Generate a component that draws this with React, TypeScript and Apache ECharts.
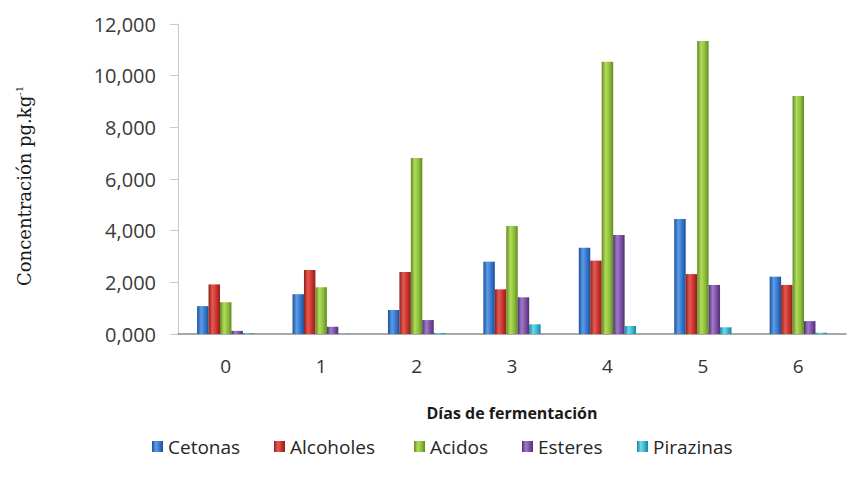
import React, { useEffect, useRef } from "react";
import * as echarts from "echarts";

const categories = ["0", "1", "2", "3", "4", "5", "6"];
const seriesNames = ["Cetonas", "Alcoholes", "Acidos", "Esteres", "Pirazinas"];
const cetonas = [1080, 1540, 930, 2800, 3340, 4450, 2220];
const alcoholes = [1920, 2480, 2400, 1730, 2840, 2320, 1900];
const acidos = [1230, 1810, 6810, 4180, 10540, 11340, 9210];
const esteres = [120, 280, 540, 1420, 3830, 1900, 500];
const pirazinas = [30, 10, 40, 375, 310, 260, 50];
const yTicks = [0, 2000, 4000, 6000, 8000, 10000, 12000];

const legendLefts = [152, 274, 414, 522, 637];

const palette = [
  { dark: "#1d4f96", mid: "#3476cc", light: "#5c9de6" },
  { dark: "#8f1f1b", mid: "#c7322c", light: "#e65a50" },
  { dark: "#5f8a22", mid: "#8cbc39", light: "#b2dc5a" },
  { dark: "#4f2f73", mid: "#7b4ea3", light: "#a07cc6" },
  { dark: "#17849b", mid: "#31b5cf", light: "#74d8ea" },
];

function grad(c: { dark: string; mid: string; light: string }) {
  return new echarts.graphic.LinearGradient(0, 0, 1, 0, [
    { offset: 0, color: c.dark },
    { offset: 0.35, color: c.light },
    { offset: 0.7, color: c.mid },
    { offset: 1, color: c.dark },
  ]);
}

export default function App() {
  const ref = useRef<HTMLDivElement>(null);
  useEffect(() => {
    if (!ref.current) return;
    const chart = echarts.init(ref.current, null, { renderer: "svg" });
    const data = [cetonas, alcoholes, acidos, esteres, pirazinas];
    chart.setOption({
      animation: false,
      backgroundColor: "#ffffff",
      textStyle: { fontFamily: "Open Sans" },
      grid: { left: 178, right: 2, top: 24, bottom: 152, containLabel: false },
      legend: seriesNames.map((name, i) => ({
        left: legendLefts[i],
        top: 437,
        itemWidth: 11,
        itemHeight: 11,
        itemGap: 10,
        padding: 0,
        icon: "rect",
        textStyle: { fontSize: 19, color: "#262626", fontFamily: "Open Sans" },
        data: [name],
      })),
      xAxis: {
        type: "category",
        data: categories,
        name: "Días de fermentación",
        nameLocation: "middle",
        nameGap: 71,
        nameTextStyle: { fontSize: 16, fontWeight: "bold", color: "#1a1a1a", fontFamily: "Open Sans" },
        axisLine: { show: true, lineStyle: { color: "#8c8c8c", width: 1.5 } },
        axisTick: { show: false },
        axisLabel: { fontSize: 19, color: "#333333", margin: 22, fontFamily: "Open Sans" },
      },
      yAxis: {
        type: "value",
        min: 0,
        max: 12000,
        interval: 2000,
        splitLine: { show: false },
        axisLine: { show: true, lineStyle: { color: "#c8c8c8" } },
        axisTick: { show: true, length: 8, lineStyle: { color: "#c8c8c8" } },
        axisLabel: {
          fontSize: 20,
          color: "#3a3a3a",
          margin: 22,
          fontFamily: "Open Sans",
          formatter: (v: number) => (yTicks.includes(v) ? (v / 1000).toFixed(3).replace(".", ",") : ""),
        },
      },
      graphic: [
        {
          type: "text",
          x: 24,
          y: 186,
          rotation: Math.PI / 2,
          style: {
            text: "{a|Concentración pg.kg}{b|-1}",
            textAlign: "center",
            textVerticalAlign: "middle",
            rich: {
              a: { fontFamily: "DejaVu Serif", fontSize: 18, fill: "#1a1a1a" },
              b: { fontFamily: "DejaVu Serif", fontSize: 10, fill: "#1a1a1a", verticalAlign: "top", padding: [0, 0, 10, 0] },
            },
          },
        },
      ],
      series: seriesNames.map((name, i) => ({
        name,
        type: "bar",
        data: data[i],
        barGap: "0%",
        barCategoryGap: "40%",
        itemStyle: { color: grad(palette[i]) },
      })),
      color: palette.map((p) => p.mid),
    });
    return () => chart.dispose();
  }, []);
  return <div ref={ref} style={{ position: "fixed", left: 0, top: 0, width: 848, height: 486 }} />;
}
